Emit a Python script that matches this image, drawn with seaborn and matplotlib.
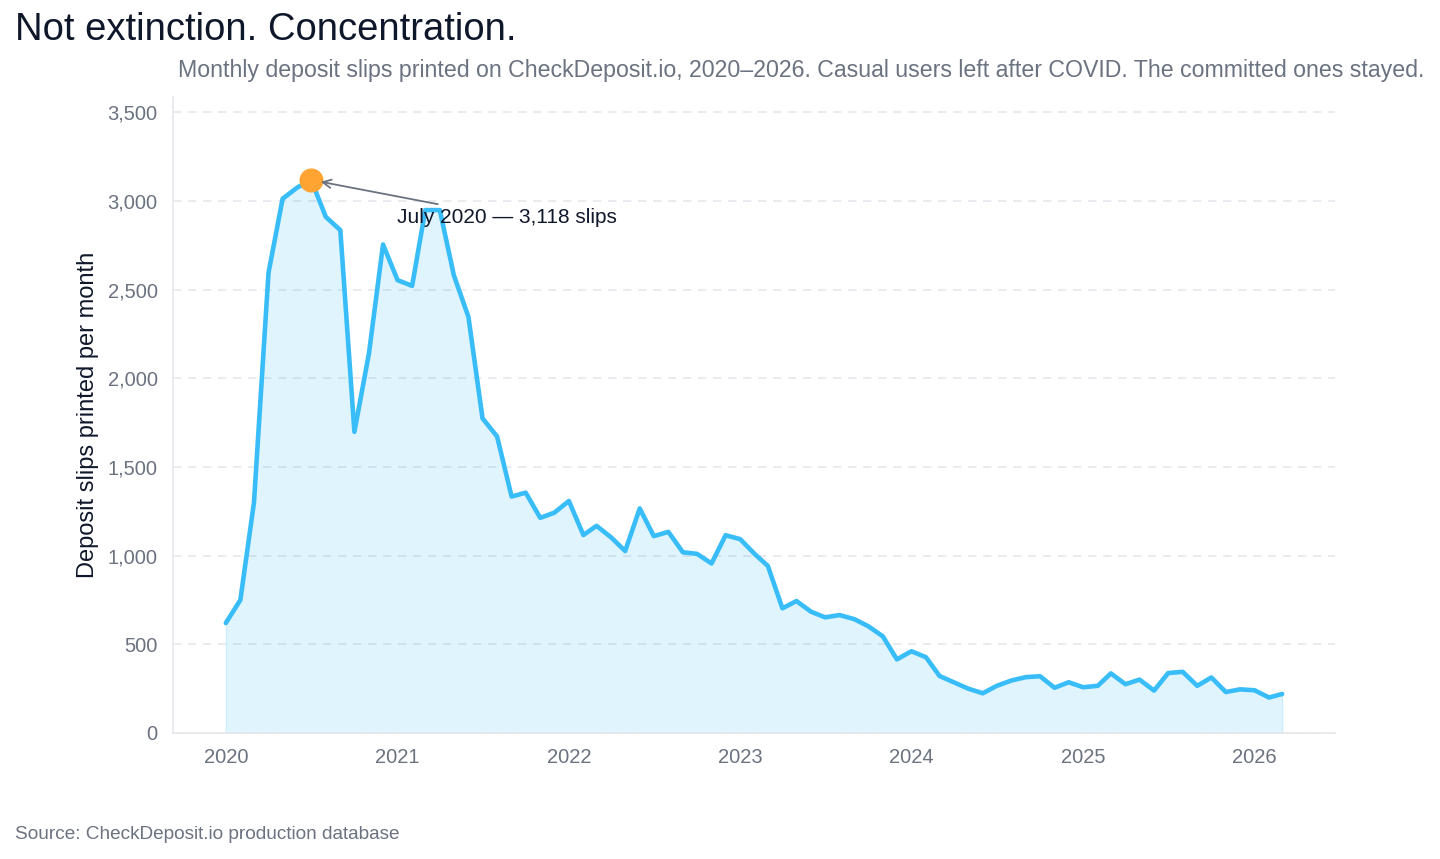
import numpy as np
import pandas as pd
import matplotlib
matplotlib.use("Agg")
import matplotlib.pyplot as plt
import matplotlib.dates as mdates
from matplotlib.ticker import FuncFormatter
import seaborn as sns

# monthly slips, Jan 2020 .. Mar 2026
months = pd.date_range("2020-01-01", "2026-03-01", freq="MS")
slips = [
    620, 750, 1300, 2595, 3012, 3075, 3118, 2910, 2835, 1698, 2140, 2754,
    2553, 2521, 2948, 2948, 2580, 2346, 1774, 1672, 1333, 1355, 1213, 1242,
    1308, 1116, 1168, 1103, 1026, 1266, 1110, 1134, 1019, 1010, 956, 1115,
    1093, 1009, 942, 703, 744, 684, 652, 665, 642, 602, 545, 415,
    461, 427, 321, 285, 250, 224, 266, 296, 315, 320, 255, 286,
    258, 266, 336, 275, 301, 239, 338, 345, 266, 313, 231, 246,
    241, 200, 220,
]
peak_label = "July 2020 — 3,118 slips"
df = pd.DataFrame({"month": months, "slips": slips})

LINE = "#38bdf8"
DARK = "#0f172a"
GRAY = "#6b7280"
GRID = "#e5e7eb"

sns.set_theme(style="white")
plt.rcParams["font.family"] = ["Liberation Sans", "DejaVu Sans"]

fig = plt.figure(figsize=(14.4, 8.59), dpi=100)
ax = fig.add_axes([173 / 1440, 1 - 733 / 859, (1335 - 173) / 1440, (733 - 97) / 859])

ax.fill_between(df["month"], df["slips"], 0, color=LINE, alpha=0.16, linewidth=1)
sns.lineplot(data=df, x="month", y="slips", ax=ax, color=LINE, linewidth=3.3)

peak = df.loc[df["slips"].idxmax()]
ax.scatter([peak["month"]], [peak["slips"]], s=300, color="#ffa333", zorder=5, linewidth=0)
ax.annotate(peak_label, xy=(peak["month"], peak["slips"]), xytext=(62, -27),
            textcoords="offset points", ha="left", va="center", fontsize=15,
            color=DARK, zorder=6,
            arrowprops=dict(arrowstyle="->", color=GRAY, lw=1.3, shrinkB=7))

ax.set_ylim(0, max(slips) * 1.15)
ax.set_yticks(np.arange(0, 3501, 500))
ax.yaxis.set_major_formatter(FuncFormatter(lambda v, p: f"{v:,.0f}"))
ax.xaxis.set_major_locator(mdates.YearLocator())
ax.xaxis.set_major_formatter(mdates.DateFormatter("%Y"))

ax.grid(axis="y", color=GRID, linestyle=(0, (5, 4)), linewidth=1.2)
ax.set_axisbelow(True)
sns.despine(ax=ax)
for s in ["left", "bottom"]:
    ax.spines[s].set_color(GRID)
    ax.spines[s].set_linewidth(1.2)
ax.tick_params(axis="both", colors=GRAY, labelsize=14.5, length=5, width=1.2, pad=6)
ax.set_xlabel("")
ax.set_ylabel("Deposit slips printed per month", fontsize=17, color=DARK)
ax.yaxis.set_label_coords(-0.0635, 0.5)

fig.text(15 / 1440, 1 - 40 / 859, "Not extinction. Concentration.", fontsize=27.5,
         color=DARK, ha="left", va="baseline")
fig.text(1424 / 1440, 1 - 77 / 859,
         "Monthly deposit slips printed on CheckDeposit.io, 2020–2026. Casual users left after COVID. The committed ones stayed.",
         fontsize=16.7, color=GRAY, ha="right", va="baseline")
fig.text(15 / 1440, 1 - 839 / 859, "Source: CheckDeposit.io production database",
         fontsize=13.7, color=GRAY, ha="left", va="baseline")

fig.savefig("out.png", dpi=100)
